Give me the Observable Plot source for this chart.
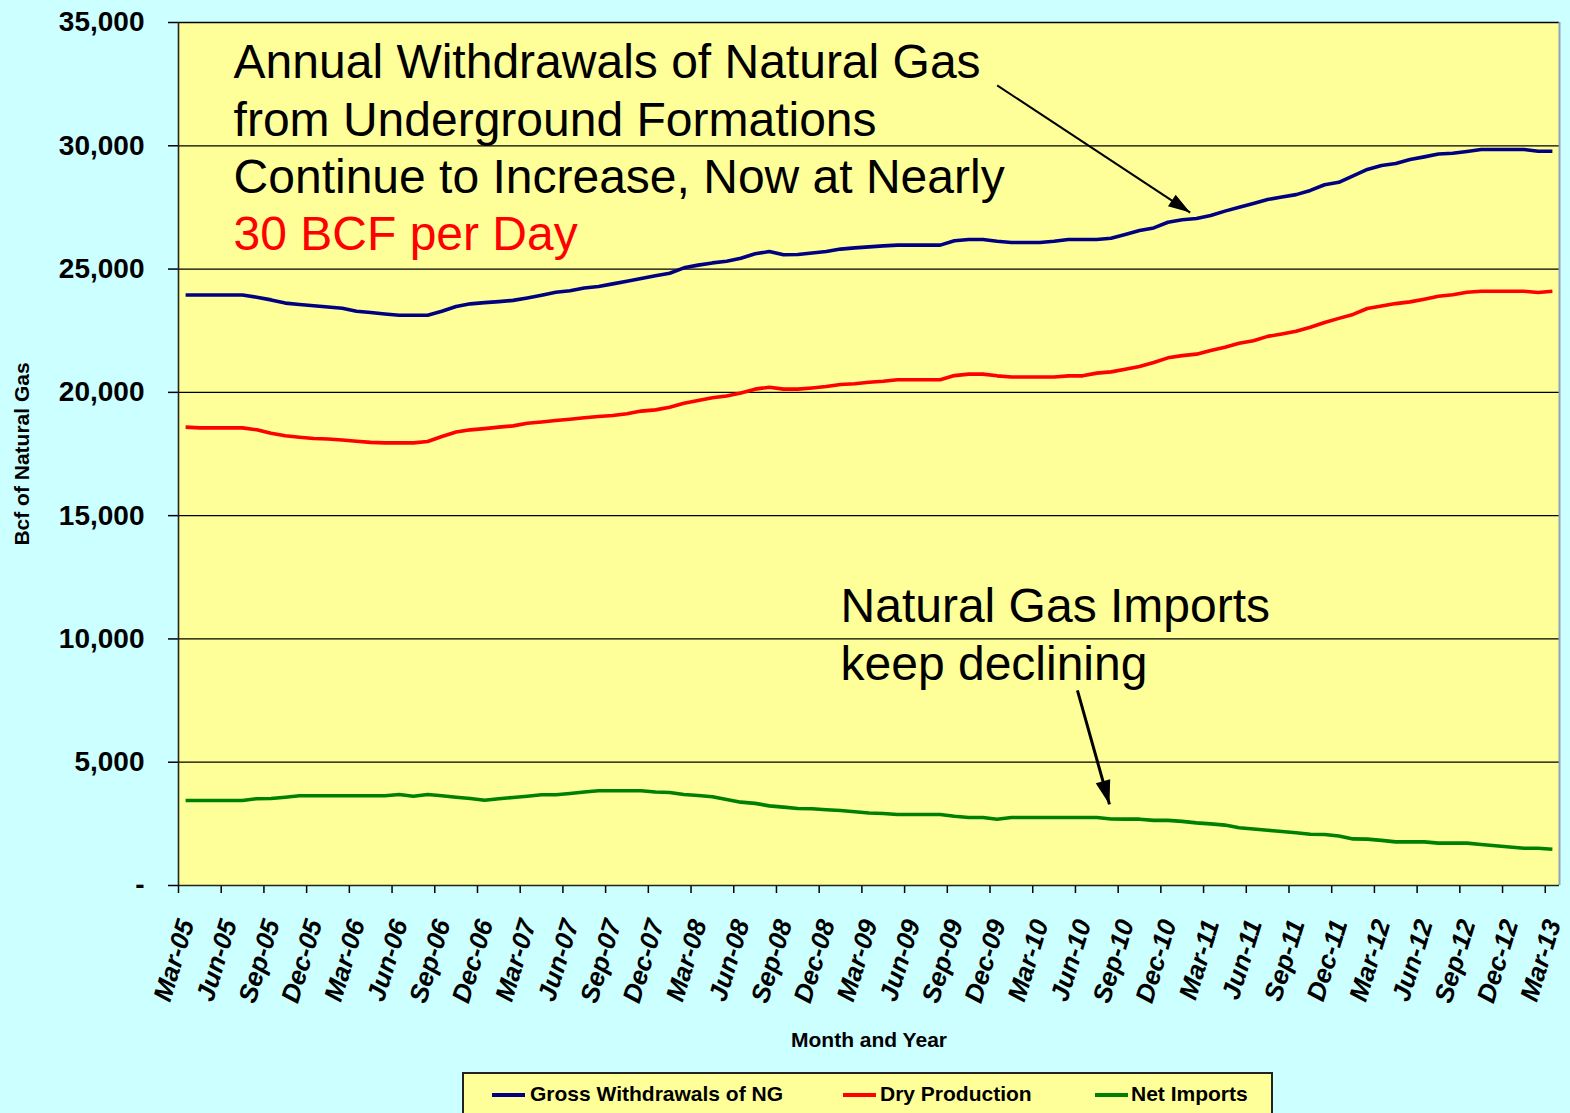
<!DOCTYPE html>
<html><head><meta charset="utf-8">
<script src="https://cdn.jsdelivr.net/npm/d3@7"></script>
<script src="https://cdn.jsdelivr.net/npm/@observablehq/plot@0.6"></script>
<style>
html,body{margin:0;padding:0;}
body{background:#CCFFFF;width:1570px;height:1113px;overflow:hidden;position:relative;font-family:"Liberation Sans",Arial,sans-serif;}
#chart svg{display:block;}
#legend{position:absolute;left:462px;top:1072px;width:811px;height:48px;border:2px solid #222;background:#FFFF99;box-sizing:border-box;}
#legend .sw{position:absolute;top:19px;height:4px;width:33px;}
#legend .lb{position:absolute;top:7px;font-weight:bold;font-size:21px;line-height:25px;color:#000;white-space:nowrap;}
</style></head>
<body><div id="chart"></div><div id="legend"></div>
<script>
// ---- data ----
const tickLabels = ["Mar-05","Jun-05","Sep-05","Dec-05","Mar-06","Jun-06","Sep-06","Dec-06","Mar-07","Jun-07","Sep-07","Dec-07","Mar-08","Jun-08","Sep-08","Dec-08","Mar-09","Jun-09","Sep-09","Dec-09","Mar-10","Jun-10","Sep-10","Dec-10","Mar-11","Jun-11","Sep-11","Dec-11","Mar-12","Jun-12","Sep-12","Dec-12","Mar-13"];
const seriesNames = ["Gross Withdrawals of NG","Dry Production","Net Imports"];
const seriesColors = ["#000080","#FF0000","#008000"];
const gross = [23950,23950,23950,23950,23950,23860,23750,23620,23560,23510,23460,23410,23290,23240,23180,23130,23130,23130,23290,23480,23590,23640,23680,23730,23830,23940,24060,24120,24230,24290,24400,24510,24620,24730,24830,25050,25160,25250,25320,25440,25620,25710,25580,25590,25650,25710,25810,25860,25900,25940,25970,25970,25970,25970,26150,26200,26200,26130,26080,26080,26080,26130,26200,26200,26200,26250,26400,26560,26670,26900,27000,27050,27170,27350,27510,27660,27820,27920,28020,28190,28420,28520,28780,29040,29200,29280,29440,29550,29670,29700,29770,29850,29850,29850,29850,29780,29780];
const dry = [18590,18560,18560,18560,18560,18480,18340,18240,18180,18130,18110,18070,18020,17970,17950,17950,17950,18010,18210,18390,18480,18530,18590,18640,18750,18800,18860,18910,18970,19020,19060,19130,19240,19290,19400,19560,19670,19780,19850,19970,20130,20210,20130,20130,20180,20240,20320,20350,20410,20450,20510,20510,20510,20510,20680,20740,20740,20670,20620,20620,20620,20620,20670,20670,20780,20830,20940,21050,21210,21400,21490,21550,21700,21830,21990,22090,22270,22370,22480,22640,22830,23000,23160,23400,23500,23600,23670,23780,23900,23960,24060,24100,24100,24100,24100,24050,24100];
const imports = [3450,3450,3450,3450,3450,3520,3530,3580,3640,3640,3640,3640,3640,3640,3640,3690,3620,3690,3640,3580,3530,3460,3520,3570,3620,3680,3680,3730,3790,3840,3840,3840,3840,3790,3770,3690,3650,3600,3490,3380,3330,3230,3180,3120,3110,3070,3040,2990,2940,2920,2880,2880,2880,2880,2810,2760,2760,2690,2760,2760,2760,2760,2760,2760,2760,2700,2690,2690,2640,2640,2600,2540,2500,2450,2340,2290,2240,2190,2140,2080,2070,2010,1890,1880,1830,1770,1770,1770,1720,1720,1720,1660,1610,1560,1510,1510,1470];
const yTicks = [0,5000,10000,15000,20000,25000,30000,35000];
const annotations = [
  {x: 3.37, y: 34400, text: "Annual Withdrawals of Natural Gas\nfrom Underground Formations\nContinue to Increase, Now at Nearly", color: "#000"},
  {x: 3.37, y: 27440, text: "30 BCF per Day", color: "#FF0000"},
  {x: 46.0, y: 12340, text: "Natural Gas Imports\nkeep declining", color: "#000"}
];
const arrows = [
  {x1: 57.0, y1: 32450, x2: 70.56, y2: 27290, w: 2},
  {x1: 62.64, y1: 7910, x2: 64.89, y2: 3290, w: 3}
];

// ---- build ----
const valueSets = [gross, dry, imports];
const rows = valueSets.flatMap((vals, s) => vals.map((v, i) => ({i, v, name: seriesNames[s]})));
const nMonths = gross.length;
const xTickPos = tickLabels.map((_, k) => k * 3 - 0.5);

const W = 1570, H = 1065;
const svg = Plot.plot({
  width: W, height: H,
  marginLeft: 178, marginRight: 11, marginTop: 22, marginBottom: H - 885,
  style: {background: "transparent", fontFamily: "'Liberation Sans', Arial, sans-serif", color: "#000", overflow: "visible"},
  x: {domain: [-0.5, nMonths - 0.5], axis: null},
  y: {domain: [0, 35000], axis: null},
  color: {domain: seriesNames, range: seriesColors},
  marks: [
    Plot.frame({fill: "#FFFF99", stroke: null}),
    Plot.ruleY(yTicks.filter(d => d > 0), {stroke: "#000", strokeWidth: 1.3}),
    Plot.ruleX([nMonths - 0.5], {stroke: "#8fa4b8", strokeWidth: 2}),
    Plot.axisY({ticks: yTicks, tickFormat: d => d === 0 ? "-" : d3.format(",")(d), tickSize: 10, tickPadding: 24, fontSize: 28, fontWeight: "bold", label: null, stroke: "#000", strokeWidth: 1.5}),
    Plot.axisX({ticks: xTickPos, tickFormat: () => "", tickSize: 8, label: null, stroke: "#000", strokeWidth: 1.5}),
    Plot.axisX({ticks: xTickPos, tickFormat: (d, k) => tickLabels[k], tickRotate: -73, tickSize: 0, tickPadding: 35, fontSize: 26, fontWeight: "bold", fontStyle: "italic", label: null, dx: 8}),
    Plot.ruleX([-0.5], {stroke: "#222", strokeWidth: 1.6}),
    Plot.ruleY([0], {stroke: "#222", strokeWidth: 1.6}),
    Plot.line(rows, {x: "i", y: "v", z: "name", stroke: "name", strokeWidth: 3.6, strokeLinejoin: "round", strokeLinecap: "butt"}),
    Plot.text(annotations, {x: "x", y: "y", text: "text", fill: "color", textAnchor: "start", lineAnchor: "top", fontSize: 48, lineHeight: 1.2}),
    Plot.link(arrows, {x1: "x1", y1: "y1", x2: "x2", y2: "y2", strokeWidth: "w", stroke: "#000"}),
    Plot.text(["Bcf of Natural Gas"], {frameAnchor: "left", dx: -156, rotate: -90, textAnchor: "middle", lineAnchor: "middle", fontSize: 21, fontWeight: "bold"}),
    Plot.text(["Month and Year"], {frameAnchor: "bottom", dy: 155, textAnchor: "middle", lineAnchor: "middle", fontSize: 21, fontWeight: "bold"})
  ]
});

// filled arrowheads
const ns = "http://www.w3.org/2000/svg";
const defs = document.createElementNS(ns, "defs");
[[22, 7], [24, 7.5]].forEach(([len, half], k) => {
  const m = document.createElementNS(ns, "marker");
  m.setAttribute("id", "head" + k);
  m.setAttribute("markerUnits", "userSpaceOnUse");
  m.setAttribute("orient", "auto");
  m.setAttribute("viewBox", `-1 ${-half - 1} ${len + 2} ${2 * half + 2}`);
  m.setAttribute("markerWidth", len + 2);
  m.setAttribute("markerHeight", 2 * half + 2);
  m.setAttribute("refX", len);
  m.setAttribute("refY", 0);
  const p = document.createElementNS(ns, "path");
  p.setAttribute("d", `M0,${-half}L${len},0L0,${half}Z`);
  p.setAttribute("fill", "#000");
  m.appendChild(p);
  defs.appendChild(m);
});
svg.insertBefore(defs, svg.firstChild);
svg.querySelectorAll('g[aria-label="link"] path').forEach((p, k) => p.setAttribute("marker-end", `url(#head${k})`));
document.getElementById("chart").appendChild(svg);

// legend
const legend = document.getElementById("legend");
const swX = [28, 379, 631], lbX = [66, 416, 667];
seriesNames.forEach((name, k) => {
  const sw = document.createElement("div");
  sw.className = "sw"; sw.style.left = swX[k] + "px"; sw.style.background = seriesColors[k];
  const lb = document.createElement("div");
  lb.className = "lb"; lb.style.left = lbX[k] + "px"; lb.textContent = name;
  legend.appendChild(sw); legend.appendChild(lb);
});
</script>
</body></html>
